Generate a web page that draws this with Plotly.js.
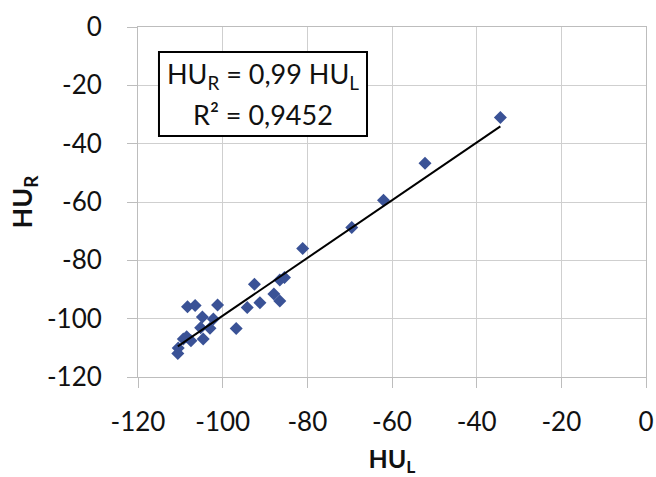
<!DOCTYPE html>
<html>
<head>
<meta charset="utf-8">
<script src="https://cdn.plot.ly/plotly-3.0.1.min.js"></script>
<style>html,body{margin:0;padding:0;background:#fff;}#chart{width:656px;height:477px;}</style>
</head>
<body>
<div id="chart"></div>
<script>
// Data
var huL = [-81.1, -92.5, -86.5, -85.4, -87.9, -86.5, -91.2, -94.2, -108.3, -106.5,
           -101.2, -104.8, -102.2, -105.2, -103.0, -96.8, -108.5, -107.5, -104.6, -110.5,
           -110.6, -109.3, -34.4, -52.2, -62.0, -69.5];
var huR = [-75.9, -88.2, -86.7, -85.9, -91.5, -93.9, -94.5, -96.2, -95.9, -95.5,
           -95.3, -99.4, -100.1, -103.1, -103.3, -103.4, -106.2, -107.6, -107.0, -110.1,
           -111.9, -107.0, -31.0, -46.7, -59.4, -68.7];
var slope = 0.99;
var rSquared = "0,9452";
var tickVals = [-120, -100, -80, -60, -40, -20, 0];

var xMin = Math.min.apply(null, huL), xMax = Math.max.apply(null, huL);
var trendX = [xMin, xMax];
var trendY = trendX.map(function (v) { return slope * v; });

var font = "Lato, 'Open Sans', sans-serif";

var traces = [
  {
    x: huL, y: huR, type: 'scatter', mode: 'markers',
    marker: { symbol: 'diamond', size: 10, color: '#3a5296' },
    hoverinfo: 'x+y'
  },
  {
    x: trendX, y: trendY, type: 'scatter', mode: 'lines',
    line: { color: '#000000', width: 2 },
    hoverinfo: 'skip'
  }
];

var axisCommon = {
  range: [-120, 0],
  tickvals: tickVals,
  ticktext: tickVals.map(String),
  showgrid: true, gridcolor: '#cfcfcf', gridwidth: 1,
  zeroline: false,
  showline: true, linecolor: '#bdbdbd', linewidth: 1, mirror: true,
  ticks: 'outside', ticklen: 10, tickcolor: '#bdbdbd', tickwidth: 1,
  tickfont: { family: font, size: 26, color: '#111111' },
  fixedrange: true
};

var layout = {
  width: 656, height: 477,
  margin: { l: 138, r: 10, t: 27, b: 100 },
  paper_bgcolor: '#ffffff', plot_bgcolor: '#ffffff',
  showlegend: false,
  xaxis: Object.assign({}, axisCommon, {
    ticklabelstandoff: 12,
    title: { text: 'HU<sub>L</sub>', font: { family: font, size: 25, color: '#111111', weight: 'bold' }, standoff: 14 }
  }),
  yaxis: Object.assign({}, axisCommon, {
    ticklabelstandoff: 20,
    title: { text: 'HU<sub>R</sub>', font: { family: font, size: 27, color: '#111111', weight: 'bold' }, standoff: 6 }
  }),
  shapes: [{
    type: 'rect', xref: 'paper', yref: 'paper',
    x0: 0.0413, x1: 0.4508, y0: 0.6886, y1: 0.9286,
    line: { color: '#000000', width: 2 }, fillcolor: '#ffffff', layer: 'above'
  }],
  annotations: [
    {
      xref: 'paper', yref: 'paper', x: 0.246, y: 0.862, xanchor: 'center', yanchor: 'middle',
      text: 'HU<sub>R</sub> = ' + String(slope).replace('.', ',') + ' HU<sub>L</sub>',
      showarrow: false, font: { family: font, size: 27, color: '#111111' }
    },
    {
      xref: 'paper', yref: 'paper', x: 0.246, y: 0.750, xanchor: 'center', yanchor: 'middle',
      text: 'R\u00B2 = ' + rSquared,
      showarrow: false, font: { family: font, size: 27, color: '#111111' }
    }
  ]
};

Plotly.newPlot('chart', traces, layout, { displayModeBar: false, staticPlot: true });
</script>
</body>
</html>
